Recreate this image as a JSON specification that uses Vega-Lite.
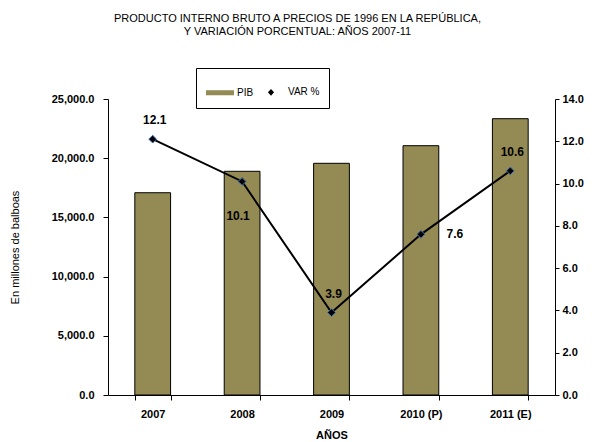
{
  "$schema": "https://vega.github.io/schema/vega-lite/v6.json",
  "width": 447,
  "height": 296,
  "autosize": {"type": "none"},
  "padding": {"left": 108, "top": 99, "right": 40, "bottom": 47},
  "background": "white",
  "config": {
    "view": {"stroke": null},
    "font": "Liberation Sans",
    "axis": {"domainColor": "black", "tickColor": "black", "labelColor": "black", "titleColor": "black", "grid": false},
    "legend": {
      "orient": "none",
      "legendX": 88,
      "legendY": -31,
      "direction": "horizontal",
      "strokeColor": "black",
      "fillColor": "white",
      "padding": 9,
      "symbolSize": 784,
      "symbolOpacity": 1,
      "symbolStrokeColor": "black",
      "symbolStrokeWidth": 1.5,
      "labelFontSize": 10,
      "labelOffset": 2,
      "columnPadding": 1,
      "labelColor": "black"
    }
  },
  "title": {
    "text": ["PRODUCTO  INTERNO  BRUTO  A PRECIOS  DE 1996 EN LA REPÚBLICA,", "Y VARIACIÓN  PORCENTUAL:  AÑOS 2007-11"],
    "fontSize": 11,
    "fontWeight": "normal",
    "font": "Liberation Sans",
    "color": "black",
    "anchor": "middle",
    "dx": -34,
    "offset": 31,
    "lineHeight": 13
  },
  "data": {
    "values": [
      {"anio": "2007", "pib": 17084, "var": 12.1},
      {"anio": "2008", "pib": 18894, "var": 10.1},
      {"anio": "2009", "pib": 19569, "var": 3.9},
      {"anio": "2010 (P)", "pib": 21056, "var": 7.6},
      {"anio": "2011 (E)", "pib": 23336, "var": 10.6}
    ]
  },
  "encoding": {
    "x": {
      "field": "anio",
      "type": "nominal",
      "sort": null,
      "scale": {"paddingInner": 0.6, "paddingOuter": 0.3},
      "axis": {
        "title": "AÑOS",
        "titleFontSize": 11,
        "titleFontWeight": "bold",
        "titlePadding": 10,
        "labelAngle": 0,
        "labelFontSize": 11,
        "labelFontWeight": "bold",
        "labelPadding": 8,
        "tickBand": "extent",
        "tickSize": 5
      }
    }
  },
  "layer": [
    {
      "mark": {"type": "bar", "stroke": "black", "strokeWidth": 1, "fill": "#948A54"},
      "encoding": {
        "y": {
          "field": "pib",
          "type": "quantitative",
          "scale": {"domain": [0, 25000]},
          "axis": {
            "title": "En millones de balboas",
            "titleFontSize": 11,
            "titleFontWeight": "normal",
            "titlePadding": 31,
            "labelFontSize": 11,
            "labelFontWeight": "bold",
            "format": ",.1f",
            "values": [0, 5000, 10000, 15000, 20000, 25000],
            "tickSize": 5,
            "labelPadding": 9
          }
        }
      }
    },
    {
      "layer": [
        {
          "mark": {"type": "line", "strokeWidth": 2, "stroke": "black"},
          "encoding": {
            "y": {"field": "var", "type": "quantitative"}
          }
        },
        {
          "mark": {"type": "point", "filled": true, "opacity": 0, "stroke": "black"},
          "encoding": {
            "y": {"field": "var", "type": "quantitative"},
            "fill": {
              "datum": "VAR %",
              "scale": {"domain": ["PIB", "VAR %"], "range": ["#948A54", "#000000"]},
              "legend": {"title": null}
            },
            "shape": {
              "datum": "VAR %",
              "scale": {"domain": ["PIB", "VAR %"], "range": ["M-1,-0.18H1V0.18H-1Z", "M-0.9,0H0.9M-0.22,0L0,-0.24L0.22,0L0,0.24Z"]},
              "legend": {"title": null}
            }
          }
        },
        {
          "mark": {"type": "point", "shape": "diamond", "filled": true, "fill": "black", "stroke": "#3E6FB5", "strokeWidth": 1, "size": 60, "opacity": 1},
          "encoding": {"y": {"field": "var", "type": "quantitative"}}
        },
        {
          "transform": [{"filter": {"field": "anio", "oneOf": ["2007", "2009", "2011 (E)"]}}],
          "mark": {"type": "text", "fontSize": 12, "fontWeight": "bold", "dy": -19, "dx": 2, "color": "black"},
          "encoding": {"y": {"field": "var", "type": "quantitative"}, "text": {"field": "var", "type": "quantitative", "format": ".1f"}}
        },
        {
          "transform": [{"filter": {"field": "anio", "equal": "2008"}}],
          "mark": {"type": "text", "fontSize": 12, "fontWeight": "bold", "dy": 35, "dx": -4, "color": "black"},
          "encoding": {"y": {"field": "var", "type": "quantitative"}, "text": {"field": "var", "type": "quantitative", "format": ".1f"}}
        },
        {
          "transform": [{"filter": {"field": "anio", "equal": "2010 (P)"}}],
          "mark": {"type": "text", "fontSize": 12, "fontWeight": "bold", "dy": 0, "dx": 34, "color": "black"},
          "encoding": {"y": {"field": "var", "type": "quantitative"}, "text": {"field": "var", "type": "quantitative", "format": ".1f"}}
        }
      ],
      "encoding": {
        "y": {
          "field": "var",
          "type": "quantitative",
          "scale": {"domain": [0, 14]},
          "axis": {
            "orient": "right",
            "title": null,
            "labelFontSize": 11,
            "labelFontWeight": "bold",
            "format": ".1f",
            "values": [0, 2, 4, 6, 8, 10, 12, 14],
            "tickSize": 4,
            "labelPadding": 3
          }
        }
      }
    }
  ],
  "resolve": {"scale": {"y": "independent"}}
}
